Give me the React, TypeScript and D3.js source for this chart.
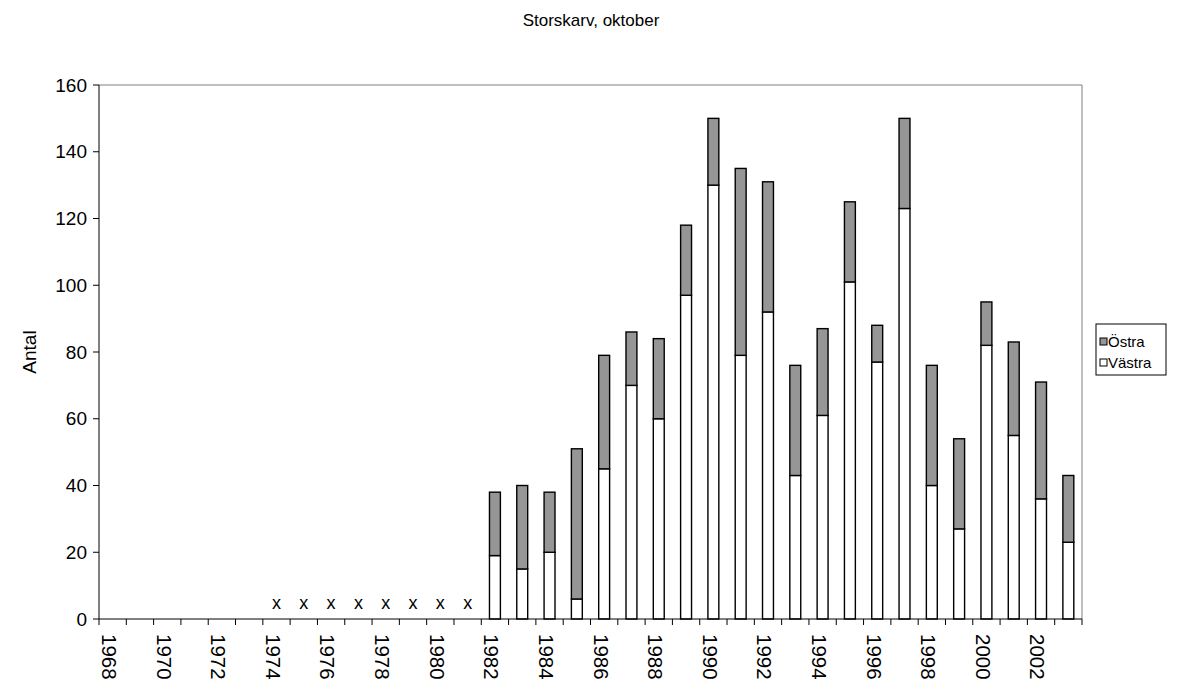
import React from "react";
import * as d3 from "d3";

const years = [
  "1968", "1969", "1970", "1971", "1972", "1973", "1974", "1975", "1976",
  "1977", "1978", "1979", "1980", "1981", "1982", "1983", "1984", "1985",
  "1986", "1987", "1988", "1989", "1990", "1991", "1992", "1993", "1994",
  "1995", "1996", "1997", "1998", "1999", "2000", "2001", "2002", "2003",
];
const vastra: (number | null)[] = [
  null, null, null, null, null, null, null, null, null, null, null, null, null, null,
  19, 15, 20, 6, 45, 70, 60, 97, 130, 79, 92, 43, 61, 101, 77, 123, 40, 27, 82, 55, 36, 23,
];
const ostra: (number | null)[] = [
  null, null, null, null, null, null, null, null, null, null, null, null, null, null,
  19, 25, 18, 45, 34, 16, 24, 21, 20, 56, 39, 33, 26, 24, 11, 27, 36, 27, 13, 28, 35, 20,
];
const missingYears = ["1974", "1975", "1976", "1977", "1978", "1979", "1980", "1981"];
const yTicks = [0, 20, 40, 60, 80, 100, 120, 140, 160];
const xLabelYears = years.filter((_, i) => i % 2 === 0);

const W = 1183;
const H = 688;
const L = 99;
const R = 1082;
const T = 85;
const B = 619;
const FONT = "'Liberation Sans', Arial, sans-serif";
const GRAY = "#969696";

export default function App() {
  const y = d3.scaleLinear().domain([0, 160]).range([B, T]);
  const cat = d3.scaleBand().domain(years).range([L, R]).padding(0);
  const bw = cat.bandwidth();
  const boundaries = years.map((yr) => cat(yr) as number).concat([R]);

  return (
    <svg
      width={W}
      height={H}
      style={{ position: "absolute", left: 0, top: 0, background: "#fff" }}
      fontFamily={FONT}
    >
      <text x={591} y={26} fontSize={17} textAnchor="middle" fill="#000">
        Storskarv, oktober
      </text>

      {/* plot border */}
      <line x1={L} x2={R} y1={T} y2={T} stroke="#808080" strokeWidth={1} />
      <line x1={R} x2={R} y1={T} y2={B} stroke="#808080" strokeWidth={1} />

      {/* bars */}
      {years.map((yr, i) => {
        const v = vastra[i];
        const o = ostra[i];
        if (v == null || o == null) return null;
        const x0 = (cat(yr) as number) + bw * 0.3;
        const w = bw * 0.4;
        return (
          <g key={yr}>
            <rect x={x0} y={y(v)} width={w} height={y(0) - y(v)} fill="#fff" stroke="#000" strokeWidth={1.4} />
            <rect x={x0} y={y(v + o)} width={w} height={y(v) - y(v + o)} fill={GRAY} stroke="#000" strokeWidth={1.4} />
          </g>
        );
      })}

      {/* missing markers */}
      {missingYears.map((yr) => (
        <text key={yr} x={(cat(yr) as number) + bw / 2} y={609} fontSize={18} textAnchor="middle">
          x
        </text>
      ))}

      {/* axes */}
      <line x1={L} x2={L} y1={T} y2={B} stroke="#000" strokeWidth={1} />
      <line x1={L} x2={R} y1={B} y2={B} stroke="#000" strokeWidth={1} />
      {yTicks.map((t) => (
        <g key={t}>
          <line x1={L - 6} x2={L} y1={y(t)} y2={y(t)} stroke="#000" />
          <text x={L - 12} y={y(t)} dy="0.35em" fontSize={19} textAnchor="end">
            {t}
          </text>
        </g>
      ))}
      {boundaries.map((bx, i) => (
        <line key={i} x1={bx} x2={bx} y1={B} y2={B + 6} stroke="#000" />
      ))}
      {xLabelYears.map((yr) => (
        <text
          key={yr}
          transform={`translate(${(cat(yr) as number) + 3},${634}) rotate(90)`}
          fontSize={20.5}
          textAnchor="start"
        >
          {yr}
        </text>
      ))}

      <text transform={`translate(36,352) rotate(-90)`} fontSize={19} textAnchor="middle">
        Antal
      </text>

      {/* legend */}
      <rect x={1096} y={324} width={70} height={51} fill="#fff" stroke="#000" strokeWidth={1} />
      <rect x={1100} y={338} width={7} height={7} fill={GRAY} stroke="#000" />
      <text x={1108} y={342} dy="0.35em" fontSize={15}>Östra</text>
      <rect x={1100} y={359} width={7} height={7} fill="#fff" stroke="#000" />
      <text x={1108} y={363} dy="0.35em" fontSize={15}>Västra</text>
    </svg>
  );
}
